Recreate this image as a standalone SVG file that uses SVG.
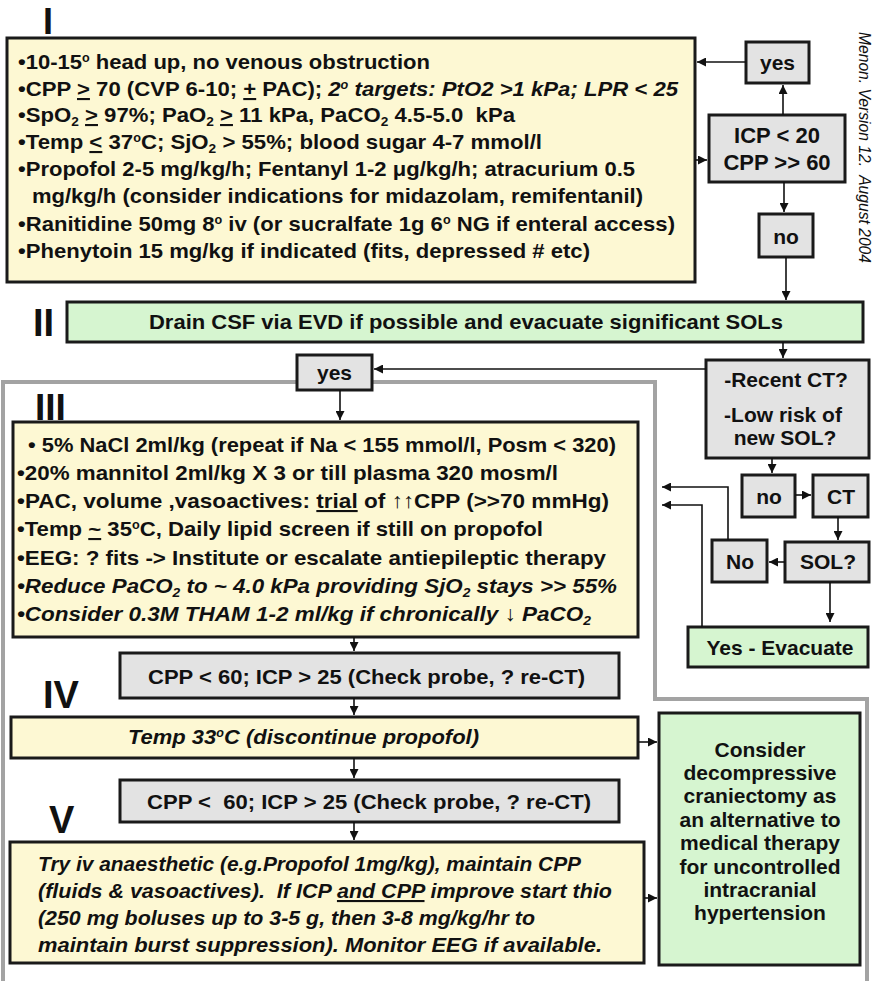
<svg xmlns="http://www.w3.org/2000/svg" width="874" height="981" viewBox="0 0 874 981">
<defs>
<marker id="ah" viewBox="0 0 10 10" refX="10" refY="5" markerWidth="9" markerHeight="9" markerUnits="userSpaceOnUse" orient="auto"><path d="M0,0 L10,5 L0,10 z" fill="#111"/></marker>
<style>
text{font-family:"Liberation Sans",Arial,sans-serif;fill:#111;}
.t{font-size:21px;font-weight:bold;}
.it{font-style:italic;}
.c{text-anchor:middle;}
.num{font-size:38px;font-weight:bold;}
.sb{font-size:13px;}
.sp{font-size:12px;}
.yel{fill:#fdf8d3;stroke:#1a1a1a;stroke-width:3;}
.grn{fill:#d6f5d0;stroke:#1a1a1a;stroke-width:3;}
.gry{fill:#e3e3e3;stroke:#1a1a1a;stroke-width:3;}
.ln{fill:none;stroke:#111;stroke-width:1.6;marker-end:url(#ah);}
.frame{fill:none;stroke:#a3a3a3;stroke-width:4;}
</style>
</defs>
<rect width="874" height="981" fill="#fff"/>
<path class="frame" d="M3,981 V382 H655 V699 H867 V981"/>

<g id="label-I"><text class="num" x="43" y="34" style="font-size:36px">I</text></g>
<g id="label-II"><text class="num" x="33" y="336">II</text></g>
<g id="label-III"><text class="num" x="35" y="420" style="font-size:37px">III</text></g>
<g id="label-IV"><text class="num" x="43" y="708">IV</text></g>
<g id="label-V"><text class="num" x="49" y="833">V</text></g>

<g id="box-I">
<rect class="yel" x="7" y="38" width="688" height="244"/>
<text class="t" xml:space="preserve" x="18" y="69" textLength="412" lengthAdjust="spacingAndGlyphs">•10-15<tspan class="sp" baseline-shift="7">o</tspan> head up, no venous obstruction</text>
<text class="t" xml:space="preserve" x="18" y="96" textLength="660" lengthAdjust="spacingAndGlyphs">•CPP <tspan text-decoration="underline">&gt;</tspan> 70 (CVP 6-10; <tspan text-decoration="underline">+</tspan> PAC); <tspan class="it">2<tspan class="sp" baseline-shift="7">o</tspan> targets: PtO2 &gt;1 kPa; LPR &lt; 25</tspan></text>
<text class="t" xml:space="preserve" x="18" y="122" textLength="497" lengthAdjust="spacingAndGlyphs">•SpO<tspan class="sb" baseline-shift="-4">2</tspan> <tspan text-decoration="underline">&gt;</tspan> 97%; PaO<tspan class="sb" baseline-shift="-4">2</tspan> <tspan text-decoration="underline">&gt;</tspan> 11 kPa, PaCO<tspan class="sb" baseline-shift="-4">2</tspan> 4.5-5.0  kPa</text>
<text class="t" xml:space="preserve" x="18" y="149" textLength="524" lengthAdjust="spacingAndGlyphs">•Temp <tspan text-decoration="underline">&lt;</tspan> 37<tspan class="sp" baseline-shift="7">o</tspan>C; SjO<tspan class="sb" baseline-shift="-4">2</tspan> &gt; 55%; blood sugar 4-7 mmol/l</text>
<text class="t" xml:space="preserve" x="18" y="176" textLength="617" lengthAdjust="spacingAndGlyphs">•Propofol 2-5 mg/kg/h; Fentanyl 1-2 μg/kg/h; atracurium 0.5</text>
<text class="t" xml:space="preserve" x="32" y="203" textLength="611" lengthAdjust="spacingAndGlyphs">mg/kg/h (consider indications for midazolam, remifentanil)</text>
<text class="t" xml:space="preserve" x="18" y="231" textLength="657" lengthAdjust="spacingAndGlyphs">•Ranitidine 50mg 8<tspan class="sp" baseline-shift="7">o</tspan> iv (or sucralfate 1g 6<tspan class="sp" baseline-shift="7">o</tspan> NG if enteral access)</text>
<text class="t" xml:space="preserve" x="18" y="258" textLength="572" lengthAdjust="spacingAndGlyphs">•Phenytoin 15 mg/kg if indicated (fits, depressed # etc)</text>
</g>

<g id="yes-1"><rect class="gry" x="746" y="42" width="63" height="41"/><text class="t c" x="777.5" y="70">yes</text></g>
<g id="icp-check"><rect class="gry" x="709" y="115" width="136" height="67"/><text class="t c" x="777" y="143" style="font-size:22px">ICP &lt; 20</text><text class="t c" x="777" y="170" style="font-size:22px">CPP &gt;&gt; 60</text></g>
<g id="no-1"><rect class="gry" x="759" y="214" width="54" height="43"/><text class="t c" x="786" y="244">no</text></g>
<g id="version"><text class="it" transform="translate(859,32) rotate(90)" x="0" y="0" font-size="16" textLength="231" lengthAdjust="spacingAndGlyphs" xml:space="preserve">Menon. Version 12.  August 2004</text></g>

<g id="box-II"><rect class="grn" x="67" y="302" width="796" height="40"/><text class="t c" x="466" y="329" textLength="634" lengthAdjust="spacingAndGlyphs">Drain CSF via EVD if possible and evacuate significant SOLs</text></g>

<g id="yes-2"><rect class="gry" x="297" y="355" width="75" height="35"/><text class="t c" x="334.5" y="380">yes</text></g>
<g id="recent-ct"><rect class="gry" x="706" y="360" width="163" height="98"/><text class="t c" x="786" y="387">-Recent CT?</text><text class="t c" x="783" y="422">-Low risk of</text><text class="t c" x="785" y="445">new SOL?</text></g>
<g id="no-2"><rect class="gry" x="742" y="475" width="53" height="42"/><text class="t c" x="769" y="504">no</text></g>
<g id="ct"><rect class="gry" x="813" y="475" width="55" height="42"/><text class="t c" x="841" y="504">CT</text></g>
<g id="sol"><rect class="gry" x="785" y="542" width="84" height="40"/><text class="t c" x="828" y="569">SOL?</text></g>
<g id="no-3"><rect class="gry" x="712" y="540" width="55" height="42"/><text class="t c" x="740" y="569">No</text></g>
<g id="yes-evacuate"><rect class="grn" x="688" y="627" width="180" height="40"/><text class="t c" x="780" y="655">Yes - Evacuate</text></g>

<g id="box-III">
<rect class="yel" x="13" y="422" width="625" height="215"/>
<text class="t" xml:space="preserve" x="28" y="452" textLength="588" lengthAdjust="spacingAndGlyphs">• 5% NaCl 2ml/kg (repeat if Na &lt; 155 mmol/l, Posm &lt; 320)</text>
<text class="t" xml:space="preserve" x="17" y="480" textLength="541" lengthAdjust="spacingAndGlyphs">•20% mannitol 2ml/kg X 3 or till plasma 320 mosm/l</text>
<text class="t" xml:space="preserve" x="17" y="508" textLength="592" lengthAdjust="spacingAndGlyphs">•PAC, volume ,vasoactives: <tspan text-decoration="underline">trial</tspan> of ↑↑CPP (&gt;&gt;70 mmHg)</text>
<text class="t" xml:space="preserve" x="17" y="536" textLength="526" lengthAdjust="spacingAndGlyphs">•Temp <tspan text-decoration="underline">~</tspan> 35<tspan class="sp" baseline-shift="7">o</tspan>C, Daily lipid screen if still on propofol</text>
<text class="t" xml:space="preserve" x="17" y="565" textLength="589" lengthAdjust="spacingAndGlyphs">•EEG: ? fits -&gt; Institute or escalate antiepileptic therapy</text>
<text class="t it" xml:space="preserve" x="17" y="593" textLength="600" lengthAdjust="spacingAndGlyphs">•Reduce PaCO<tspan class="sb" baseline-shift="-4">2</tspan> to ~ 4.0 kPa providing SjO<tspan class="sb" baseline-shift="-4">2</tspan> stays &gt;&gt; 55%</text>
<text class="t it" xml:space="preserve" x="17" y="621" textLength="574" lengthAdjust="spacingAndGlyphs">•Consider 0.3M THAM 1-2 ml/kg if chronically ↓ PaCO<tspan class="sb" baseline-shift="-4">2</tspan></text>
</g>

<g id="cpp-1"><rect class="gry" x="120" y="653" width="499" height="45"/><text class="t" x="148" y="684" textLength="437" lengthAdjust="spacingAndGlyphs">CPP &lt; 60; ICP &gt; 25 (Check probe, ? re-CT)</text></g>
<g id="temp-33"><rect class="yel" x="11" y="717" width="627" height="41"/><text class="t it" x="128" y="744" textLength="351" lengthAdjust="spacingAndGlyphs">Temp 33<tspan class="sp" baseline-shift="7">o</tspan>C (discontinue propofol)</text></g>
<g id="cpp-2"><rect class="gry" x="120" y="780" width="499" height="42"/><text class="t" xml:space="preserve" x="147" y="809" textLength="444" lengthAdjust="spacingAndGlyphs">CPP &lt;  60; ICP &gt; 25 (Check probe, ? re-CT)</text></g>

<g id="box-V">
<rect class="yel" x="10" y="842" width="634" height="121"/>
<text class="t it" xml:space="preserve" x="38" y="871" textLength="543" lengthAdjust="spacingAndGlyphs">Try iv anaesthetic (e.g.Propofol 1mg/kg), maintain CPP</text>
<text class="t it" xml:space="preserve" x="38" y="898" textLength="574" lengthAdjust="spacingAndGlyphs">(fluids &amp; vasoactives).  If ICP <tspan text-decoration="underline">and CPP</tspan> improve start thio</text>
<text class="t it" xml:space="preserve" x="38" y="925" textLength="497" lengthAdjust="spacingAndGlyphs">(250 mg boluses up to 3-5 g, then 3-8 mg/kg/hr to</text>
<text class="t it" xml:space="preserve" x="38" y="952" textLength="564" lengthAdjust="spacingAndGlyphs">maintain burst suppression). Monitor EEG if available.</text>
</g>

<g id="consider">
<rect class="grn" x="659" y="713" width="201" height="252"/>
<text class="t c" x="760" y="757">Consider</text>
<text class="t c" x="760" y="780">decompressive</text>
<text class="t c" x="760" y="803">craniectomy as</text>
<text class="t c" x="760" y="827">an alternative to</text>
<text class="t c" x="760" y="850">medical therapy</text>
<text class="t c" x="760" y="874">for uncontrolled</text>
<text class="t c" x="760" y="897">intracranial</text>
<text class="t c" x="760" y="920">hypertension</text>
</g>

<g id="connectors">
<path class="ln" d="M746,62 H697"/>
<path class="ln" d="M695,160 H707"/>
<path class="ln" d="M783,115 V85"/>
<path class="ln" d="M784,182 V212"/>
<path class="ln" d="M786,257 V300"/>
<path class="ln" d="M783,342 V358"/>
<path class="ln" d="M706,369 H374"/>
<path class="ln" d="M340,390 V420"/>
<path class="ln" d="M772,458 V473"/>
<path class="ln" d="M795,495 H811"/>
<path class="ln" d="M838,517 V540"/>
<path class="ln" d="M785,562 H769"/>
<path class="ln" d="M830,582 V622"/>
<path class="ln" d="M728,540 V487 H662"/>
<path class="ln" d="M702,627 V505 H662"/>
<path class="ln" d="M354,637 V651"/>
<path class="ln" d="M354,698 V715"/>
<path class="ln" d="M638,742 H657"/>
<path class="ln" d="M354,758 V778"/>
<path class="ln" d="M354,822 V840"/>
<path class="ln" d="M644,898 H657"/>
</g>
</svg>
